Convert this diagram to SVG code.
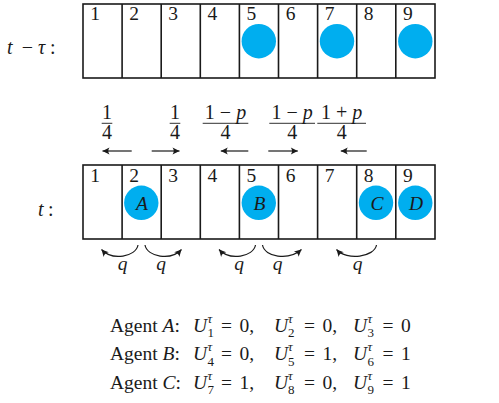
<svg xmlns="http://www.w3.org/2000/svg" width="499" height="403" viewBox="0 0 499 403" font-family="'Liberation Serif', 'DejaVu Serif', serif">
<style>
text{font-family:"Liberation Serif","DejaVu Serif",serif;fill:#1a1a1a}
.n{font-size:19.5px;text-anchor:middle}
.i{font-style:italic}
.c{fill:#00aeef}
.cell{fill:#fff;stroke:#1a1a1a;stroke-width:1.6}
.ln{stroke:#1a1a1a;stroke-width:1.6}
.ar{fill:none;stroke:#1a1a1a;stroke-width:1.2;marker-end:url(#ah)}
.fr{font-size:20px;text-anchor:middle}
.bar{stroke:#1a1a1a;stroke-width:0.9}
.ag{font-size:19.5px}
.s{font-size:13px}
</style>
<defs>
<marker id="ah" markerUnits="userSpaceOnUse" markerWidth="12" markerHeight="10" refX="8" refY="5" orient="auto">
<path d="M8,5 L1,1.5 Q3.5,5 1,8.5 Z" fill="#1a1a1a"/>
</marker>
</defs>

<g id="row-t-minus-tau">
<text x="7" y="54" style="font-size:20px" class="i">t</text>
<text x="27.5" y="54" style="font-size:20px;text-anchor:middle">−</text>
<text x="38" y="54" style="font-size:20px" class="i">τ</text>
<text x="50" y="54" style="font-size:20px">:</text>
<rect class="cell" x="83" y="4" width="352" height="74"/>
<path class="ln" d="M122.1,4V78M161.2,4V78M200.3,4V78M239.4,4V78M278.5,4V78M317.6,4V78M356.7,4V78M395.8,4V78"/>
<text class="n" x="95" y="20">1</text>
<text class="n" x="134.1" y="20">2</text>
<text class="n" x="173.2" y="20">3</text>
<text class="n" x="212.3" y="20">4</text>
<text class="n" x="251.4" y="20">5</text>
<text class="n" x="290.5" y="20">6</text>
<text class="n" x="329.6" y="20">7</text>
<text class="n" x="368.7" y="20">8</text>
<text class="n" x="407.8" y="20">9</text>
<circle class="c" cx="258.8" cy="41.2" r="17.2"/>
<circle class="c" cx="337" cy="41.2" r="17.2"/>
<circle class="c" cx="415.3" cy="41.2" r="17.2"/>
</g>

<g id="rates">
<text class="fr" x="107" y="119">1</text>
<line class="bar" x1="101.7" y1="123.3" x2="112.3" y2="123.3"/>
<text class="fr" x="107" y="139">4</text>
<text class="fr" x="175" y="119">1</text>
<line class="bar" x1="169.7" y1="123.3" x2="180.3" y2="123.3"/>
<text class="fr" x="175" y="139">4</text>
<text class="fr" x="225.5" y="119">1 − <tspan class="i">p</tspan></text>
<line class="bar" x1="202.7" y1="123.3" x2="248.3" y2="123.3"/>
<text class="fr" x="225.5" y="139">4</text>
<text class="fr" x="292.2" y="119">1 − <tspan class="i">p</tspan></text>
<line class="bar" x1="269.3" y1="123.3" x2="315" y2="123.3"/>
<text class="fr" x="292.2" y="139">4</text>
<text class="fr" x="341.7" y="119">1 + <tspan class="i">p</tspan></text>
<line class="bar" x1="317.3" y1="123.3" x2="366" y2="123.3"/>
<text class="fr" x="341.7" y="139">4</text>
</g>

<g id="row-t">
<text x="38" y="216" style="font-size:20px" class="i">t</text>
<text x="48" y="216" style="font-size:20px">:</text>
<rect class="cell" x="83" y="165" width="352" height="74"/>
<path class="ln" d="M122.1,165V239M161.2,165V239M200.3,165V239M239.4,165V239M278.5,165V239M317.6,165V239M356.7,165V239M395.8,165V239"/>
<text class="n" x="95" y="181.5">1</text>
<text class="n" x="134.1" y="181.5">2</text>
<text class="n" x="173.2" y="181.5">3</text>
<text class="n" x="212.3" y="181.5">4</text>
<text class="n" x="251.4" y="181.5">5</text>
<text class="n" x="290.5" y="181.5">6</text>
<text class="n" x="329.6" y="181.5">7</text>
<text class="n" x="368.7" y="181.5">8</text>
<text class="n" x="407.8" y="181.5">9</text>
</g>
<g id="agent-A">
<circle class="c" cx="141.3" cy="202.8" r="17.2"/>
<text class="n i" x="142" y="210">A</text>
</g>
<g id="agent-B">
<circle class="c" cx="258.8" cy="202.8" r="17.2"/>
<text class="n i" x="259.5" y="210">B</text>
</g>
<g id="agent-C">
<circle class="c" cx="376" cy="202.8" r="17.2"/>
<text class="n i" x="377" y="210">C</text>
</g>
<g id="agent-D">
<circle class="c" cx="415.3" cy="202.8" r="17.2"/>
<text class="n i" x="416" y="210">D</text>
</g>

<g id="connectors">
<path class="ar" d="M131.7,151H102.5"/>
<path class="ar" d="M151.7,151H179.5"/>
<path class="ar" d="M248.3,151H220.8"/>
<path class="ar" d="M268.3,151H297.8"/>
<path class="ar" d="M366.7,151H340.8"/>
<path class="ar" d="M138,245C136,257 112,261 101.5,249.5"/>
<path class="ar" d="M145,245C147,257 171,261 181.5,249.5"/>
<path class="ar" d="M255.5,245C253.5,257 229.5,261 219,249.5"/>
<path class="ar" d="M262.5,245C264.5,257 288.5,261 301.5,249.5"/>
<path class="ar" d="M376.5,245C374.5,257 347,261 336.5,249.5"/>
<text class="n i" x="122.5" y="270">q</text>
<text class="n i" x="161" y="270">q</text>
<text class="n i" x="239" y="270">q</text>
<text class="n i" x="277.5" y="270">q</text>
<text class="n i" x="357.5" y="270">q</text>
</g>

<g id="utilities">
<text class="ag" x="110" y="331.5">Agent <tspan class="i">A</tspan>:<tspan class="i" x="193">U</tspan><tspan class="s i" x="207.5" y="322.5">τ</tspan><tspan class="s" x="207.5" y="337">1</tspan><tspan x="221" y="331.5">=</tspan><tspan x="239.5">0,</tspan><tspan class="i" x="274">U</tspan><tspan class="s i" x="288" y="322.5">τ</tspan><tspan class="s" x="288" y="337">2</tspan><tspan x="304" y="331.5">=</tspan><tspan x="322.5">0,</tspan><tspan class="i" x="353">U</tspan><tspan class="s i" x="367.5" y="322.5">τ</tspan><tspan class="s" x="367.5" y="337">3</tspan><tspan x="382.5" y="331.5">=</tspan><tspan x="401">0</tspan></text>

<text class="ag" x="110" y="360">Agent <tspan class="i">B</tspan>:<tspan class="i" x="193">U</tspan><tspan class="s i" x="207.5" y="351">τ</tspan><tspan class="s" x="207.5" y="365.5">4</tspan><tspan x="221" y="360">=</tspan><tspan x="239.5">0,</tspan><tspan class="i" x="274">U</tspan><tspan class="s i" x="288" y="351">τ</tspan><tspan class="s" x="288" y="365.5">5</tspan><tspan x="304" y="360">=</tspan><tspan x="322.5">1,</tspan><tspan class="i" x="353">U</tspan><tspan class="s i" x="367.5" y="351">τ</tspan><tspan class="s" x="367.5" y="365.5">6</tspan><tspan x="382.5" y="360">=</tspan><tspan x="401">1</tspan></text>

<text class="ag" x="110" y="388.5">Agent <tspan class="i">C</tspan>:<tspan class="i" x="193">U</tspan><tspan class="s i" x="207.5" y="379.5">τ</tspan><tspan class="s" x="207.5" y="394">7</tspan><tspan x="221" y="388.5">=</tspan><tspan x="239.5">1,</tspan><tspan class="i" x="274">U</tspan><tspan class="s i" x="288" y="379.5">τ</tspan><tspan class="s" x="288" y="394">8</tspan><tspan x="304" y="388.5">=</tspan><tspan x="322.5">0,</tspan><tspan class="i" x="353">U</tspan><tspan class="s i" x="367.5" y="379.5">τ</tspan><tspan class="s" x="367.5" y="394">9</tspan><tspan x="382.5" y="388.5">=</tspan><tspan x="401">1</tspan></text>
</g>
</svg>
